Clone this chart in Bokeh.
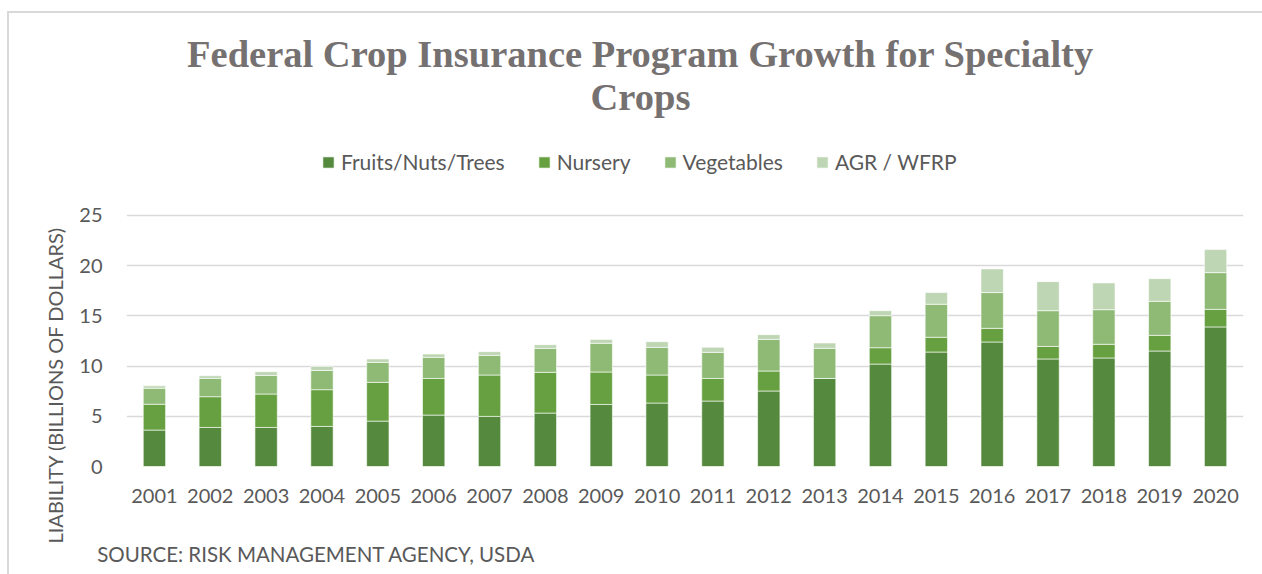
from bokeh.plotting import figure
from bokeh.models import (Range1d, FixedTicker, Legend, LegendItem, Title, Label,
                          LinearAxis)
from bokeh.embed import file_html
from bokeh.resources import INLINE

# ---- data (billions of dollars) ----
years = [2001, 2002, 2003, 2004, 2005, 2006, 2007, 2008, 2009, 2010,
         2011, 2012, 2013, 2014, 2015, 2016, 2017, 2018, 2019, 2020]
fruits_nuts_trees = [3.63, 3.89, 3.89, 3.99, 4.52, 5.12, 4.99, 5.32, 6.18, 6.32,
                     6.52, 7.52, 8.77, 10.20, 11.40, 12.40, 10.71, 10.81, 11.50, 13.90]
nursery = [2.57, 3.06, 3.33, 3.66, 3.86, 3.65, 4.12, 4.06, 3.23, 2.79,
           2.25, 1.99, 0.00, 1.63, 1.47, 1.36, 1.25, 1.36, 1.56, 1.75]
vegetables = [1.60, 1.83, 1.85, 1.92, 1.99, 2.10, 1.96, 2.39, 2.86, 2.75,
              2.60, 3.15, 3.00, 3.19, 3.29, 3.56, 3.56, 3.45, 3.39, 3.66]
agr_wfrp = [0.23, 0.26, 0.37, 0.40, 0.34, 0.33, 0.37, 0.36, 0.39, 0.57,
            0.50, 0.47, 0.53, 0.50, 1.16, 2.36, 2.89, 2.66, 2.26, 2.29]
series_names = ["Fruits/Nuts/Trees", "Nursery", "Vegetables", "AGR / WFRP"]
y_ticks = [0, 5, 10, 15, 20, 25]

title_lines = ["Federal Crop Insurance Program Growth for Specialty", "Crops"]
y_title = "LIABILITY (BILLIONS OF DOLLARS)"
source_text = "SOURCE: RISK MANAGEMENT AGENCY, USDA"

colors = ["#55893d", "#67a040", "#8fba76", "#bfd6b4"]
TEXT = "#595959"
TITLE = "#767171"
GRID = "#d9d9d9"
FONT = "Lato"

data = {"year": years, "Fruits/Nuts/Trees": fruits_nuts_trees, "Nursery": nursery,
        "Vegetables": vegetables, "AGR / WFRP": agr_wfrp}

# frame reaches the top of the canvas so the title and legend live inside it
p = figure(width=1262, height=574, output_backend="svg", toolbar_location=None,
           x_range=Range1d(2000.5, 2020.5), y_range=Range1d(0, 46.41),
           min_border_left=126, min_border_right=19, min_border_top=0,
           min_border_bottom=108)
p.outline_line_color = None
p.border_fill_color = None
p.background_fill_color = None
p.styles = {
    "background": "linear-gradient(#d9d9d9,#d9d9d9) 8px 11px / 100% 2px no-repeat, "
                  "linear-gradient(#d9d9d9,#d9d9d9) 7px 11px / 2px 100% no-repeat, white"
}

renderers = p.vbar_stack(series_names, x="year", width=0.4, color=colors,
                         line_color="white", line_width=1, line_alpha=0.6,
                         source=data)

# source line, drawn as a second bottom axis with a single labelled tick
source_x = 2003.9
src_axis = LinearAxis(ticker=FixedTicker(ticks=[source_x]),
                      major_label_overrides={source_x: source_text})
p.add_layout(src_axis, "below")

# axes
p.xaxis[0].ticker = FixedTicker(ticks=years)
p.yaxis.ticker = FixedTicker(ticks=y_ticks)
for ax in (p.xaxis[0], src_axis, p.yaxis[0]):
    ax.axis_line_color = None
    ax.major_tick_line_color = None
    ax.major_tick_out = 0
    ax.major_tick_in = 0
    ax.minor_tick_line_color = None
    ax.minor_tick_out = 0
    ax.minor_tick_in = 0
    ax.major_label_text_font = FONT
    ax.major_label_text_font_size = "20px"
    ax.major_label_text_color = TEXT
src_axis.major_label_text_font_size = "20.5px"
p.xaxis[0].major_label_standoff = 22
src_axis.major_label_standoff = 36
p.yaxis.major_label_standoff = 24
p.xgrid.grid_line_color = None
p.ygrid.ticker = FixedTicker(ticks=y_ticks)
p.ygrid.grid_line_color = GRID
p.ygrid.grid_line_width = 1.5

# legend
legend = Legend(items=[LegendItem(label=n, renderers=[r]) for n, r in zip(series_names, renderers)],
                orientation="horizontal", location=(195, 292),
                glyph_width=14, glyph_height=14, label_standoff=6, spacing=32,
                label_text_font=FONT, label_text_font_size="21px", label_text_color=TEXT,
                label_height=20, padding=0, margin=0,
                border_line_color=None, background_fill_color=None)
p.add_layout(legend, "center")

# title lines
for txt, yv in zip(title_lines, [41.1, 36.75]):
    p.add_layout(Label(x=2009.703, y=yv, text=txt, text_align="center",
                       text_baseline="alphabetic", text_font="Liberation Serif",
                       text_font_style="bold", text_font_size="38.5px", text_color=TITLE))

# y-axis title
p.add_layout(Title(text=y_title, align="left", offset=-77, standoff=19,
                   text_font=FONT, text_font_style="normal", text_font_size="20px",
                   text_color=TEXT), "left")

open("out.html", "w").write(file_html(p, INLINE))
